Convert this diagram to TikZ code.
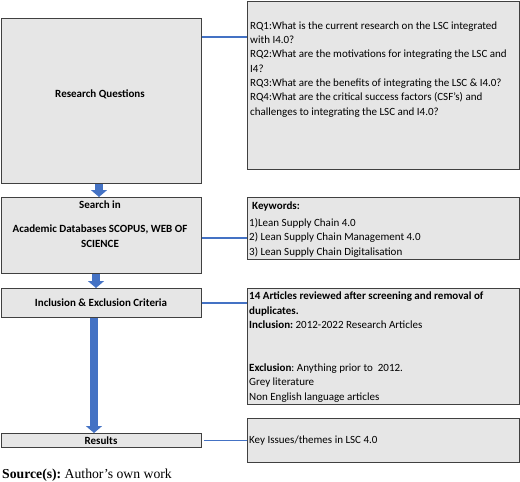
\documentclass[tikz,border=0pt]{standalone}
\usepackage{fontspec}
\setmainfont{Carlito}
\newfontfamily\srcfont{Liberation Serif}
\usepackage{tikz}
\usetikzlibrary{arrows.meta}
\definecolor{boxgrey}{RGB}{230,230,230}
\definecolor{boxedge}{RGB}{64,64,64}
\definecolor{linkblue}{RGB}{68,114,196}
\frenchspacing

\begin{document}
\begin{tikzpicture}[line join=miter,x=1pt,y=-1pt,
	greybox/.style={draw=boxedge,fill=boxgrey,line width=1pt,inner sep=0pt,anchor=north west},
	boxtext/.style={inner sep=0pt,font=\fontsize{11}{14.3}\selectfont,align=left,anchor=north west},
	stage/.style={inner sep=0pt,font=\fontsize{11}{14.3}\selectfont\bfseries,align=center},
	flow/.style={draw=linkblue,line width=8pt,-{Triangle[width=16pt,length=7pt]}},
	link/.style={draw=linkblue,line width=1.2pt}]
					\useasboundingbox (0,0) rectangle (520,482);
					
					\node[greybox,minimum width=200pt,minimum height=165pt] (rq) at (0.5,18) {};
					\node[greybox,minimum width=200pt,minimum height=76pt] (search) at (0.5,197) {};
					\node[greybox,minimum width=200pt,minimum height=29pt] (criteria) at (0.5,288) {};
					\node[greybox,minimum width=200pt,minimum height=14pt] (results) at (0.5,433) {};
					
					\node[greybox,minimum width=272pt,minimum height=168pt] (rqlist) at (247,0.5) {};
					\node[greybox,minimum width=272pt,minimum height=62pt] (keywords) at (247,197) {};
					\node[greybox,minimum width=272pt,minimum height=116pt] (articles) at (247,288) {};
					\node[greybox,minimum width=272pt,minimum height=44pt] (themes) at (247,418) {};
					
					\node[stage] (rqname) at (100,94) {Research Questions};
					\node[stage,anchor=north] (searchname) at (100,201) {Search in\\[9.7pt]Academic Databases SCOPUS, WEB OF\\SCIENCE};
					\node[stage] (criterianame) at (criteria.center) {Inclusion \& Exclusion Criteria};
					\node[stage] (resultsname) at (results.center) {Results};
					
					\node[boxtext] (rqtext) at (250,21.5) {RQ1:What is the current research on the LSC integrated\\with I4.0?\\RQ2:What are the motivations for integrating the LSC and\\I4?\\RQ3:What are the benefits of integrating the LSC \& I4.0?\\RQ4:What are the critical success factors (CSF’s) and\\challenges to integrating the LSC and I4.0?};
					\node[boxtext] (kwtext) at (249,201.5) {\hspace*{3pt}\textbf{Keywords:}\\[2.7pt]1)Lean Supply Chain 4.0\\2) Lean Supply Chain Management 4.0\\3) Lean Supply Chain Digitalisation};
					\node[boxtext] (articletext) at (249,292) {\textbf{14 Articles reviewed after screening and removal of}\\\textbf{duplicates.}\\\textbf{Inclusion:} 2012-2022 Research Articles\\[28.6pt]\textbf{Exclusion}: Anything prior to\ \ 2012.\\Grey literature\\Non English language articles};
					\node[boxtext,anchor=west] (themetext) at (249,441) {Key Issues/themes in LSC 4.0};
					
					\draw[flow] ([xshift=-2pt]rq.south) -- ([xshift=-2pt]search.north);
					\draw[flow] ([xshift=-5pt]search.south) -- ([xshift=-5pt]criteria.north);
					\draw[flow] ([xshift=-7pt]criteria.south) -- ([xshift=-7pt]results.north);
					
					\coordinate (rqlink) at (0,37);
					\coordinate (kwlink) at (0,238);
					\draw[link] (rq.east |- rqlink) -- (rqlist.west |- rqlink);
					\draw[link] (search.east |- kwlink) -- (keywords.west |- kwlink);
					\draw[link] (criteria.east) -- (criteria.east -| articles.west);
					\draw[link] ([xshift=2pt]results.east) -- (results.east -| themes.west);
					
					\node[anchor=base west,inner sep=0pt,font=\srcfont\fontsize{13.7}{16}\selectfont] (source) at (2,478) {\textbf{Source(s):} Author’s own work};
				\end{tikzpicture}
\end{document}
